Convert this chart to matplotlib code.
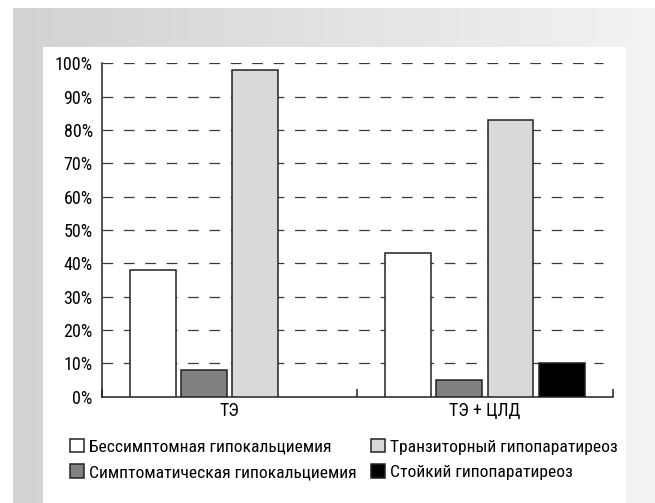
import numpy as np
import matplotlib
matplotlib.use("Agg")
import matplotlib.pyplot as plt
from matplotlib.patches import Rectangle

# --- data -------------------------------------------------------------
categories = ["ТЭ", "ТЭ + ЦЛД"]
series_names = [
    "Бессимптомная гипокальциемия",
    "Симптоматическая гипокальциемия",
    "Транзиторный гипопаратиреоз",
    "Стойкий гипопаратиреоз",
]
asymptomatic = [38, 43]
symptomatic = [8, 5]
transient = [98, 83]
persistent = [0, 10]
y_ticks = list(range(0, 101, 10))
y_tick_labels = [f"{v}%" for v in y_ticks]

series_values = [asymptomatic, symptomatic, transient, persistent]
series_colors = ["#ffffff", "#808080", "#d9d9d9", "#000000"]

plt.rcParams["font.family"] = ["Roboto Condensed", "DejaVu Sans"]
plt.rcParams["lines.scale_dashes"] = False
FS = 13
LEG_FS = 12.6

W, H = 655, 503
fig = plt.figure(figsize=(W / 100, H / 100), dpi=100)
fig.patch.set_facecolor("white")

# --- framed background: grey gradient band with a white panel ---------
bg = fig.add_axes([0, 0, 1, 1], zorder=-10)
bg.axis("off")
grad = np.linspace(0, 1, 256)[None, :]
c0, c1 = 0xd2 / 255, 0xf3 / 255
gimg = np.repeat((c0 + (c1 - c0) * grad)[..., None], 3, axis=2)
bg.imshow(gimg, extent=(12.5, W, H, 8), aspect="auto", interpolation="bilinear")
bg.add_patch(Rectangle((43, 47), 583, H - 47, facecolor="white", edgecolor="none"))
bg.set_xlim(0, W)
bg.set_ylim(H, 0)

# --- chart ------------------------------------------------------------
ax_l, ax_r, ax_t, ax_b = 101.7, 612.7, 63.3, 396.7
ax = fig.add_axes([ax_l / W, 1 - ax_b / H, (ax_r - ax_l) / W, (ax_b - ax_t) / H])
ax.set_facecolor("none")

x = np.arange(len(categories))
n = len(series_values)
step, width = 0.2, 0.18
edge = "#222222"
for i, (vals, col, name) in enumerate(zip(series_values, series_colors, series_names)):
    offs = (i - (n - 1) / 2) * step
    bars = ax.bar(x + offs, vals, width=width, color=col, edgecolor=edge,
                  linewidth=1.1, label=name, zorder=3)
    for b, v in zip(bars, vals):
        if v == 0:
            b.set_visible(False)

ax.set_xlim(-0.5, 1.5)
ax.set_ylim(0, 100)

grid_end = (603 - ax_l) / (ax_r - ax_l)
for v in y_ticks[1:]:
    ax.axhline(v, xmin=0, xmax=grid_end, color="#3a3a3a", linewidth=0.9,
               linestyle=(0, (7.7, 7.7)), zorder=1)

ax.set_yticks(y_ticks)
ax.set_yticklabels(y_tick_labels)
ax.tick_params(axis="y", length=0, pad=6.5, labelsize=FS)
ax.set_xticks(x)
ax.set_xticklabels(categories)
ax.tick_params(axis="x", length=0, pad=4, labelsize=FS)
ax.set_xticks([-0.5, 0.5, 1.5], minor=True)
ax.tick_params(axis="x", which="minor", direction="in", length=6, width=1.1, color=edge)

for s in ("top", "right"):
    ax.spines[s].set_visible(False)
for s in ("left", "bottom"):
    ax.spines[s].set_color(edge)
    ax.spines[s].set_linewidth(1.1)

handles, labels = ax.get_legend_handles_labels()
leg = ax.legend(handles, labels, ncol=2, loc="upper left",
                bbox_to_anchor=(70 / W, 1 - 439 / H),
                bbox_transform=fig.transFigure, frameon=False, fontsize=LEG_FS,
                handlelength=0.8, handleheight=0.8, handletextpad=0.3,
                columnspacing=0.8, labelspacing=0.55, borderpad=0, borderaxespad=0)
for h in leg.legend_handles:
    h.set_visible(True)
    h.set_edgecolor(edge)
    h.set_linewidth(1.1)

fig.savefig("out.png", dpi=100)
